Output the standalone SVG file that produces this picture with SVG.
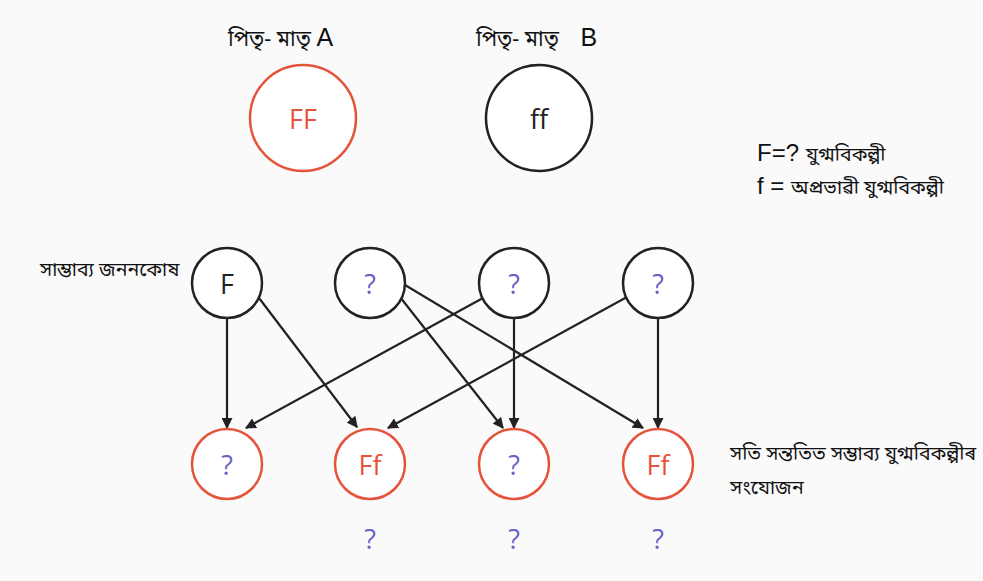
<svg xmlns="http://www.w3.org/2000/svg" width="983" height="581" viewBox="0 0 983 581">
<style>
.bn{font-family:"Noto Sans Bengali","Noto Sans","Liberation Sans",sans-serif;fill:#111}
.lat{font-family:"Liberation Sans",Arial,sans-serif;fill:#111}
.red{fill:#fff;stroke:#e5533a;stroke-width:2.5}
.blk{fill:#fff;stroke:#222;stroke-width:2.5}
.gl{font-family:"Open Sans","DejaVu Sans",sans-serif;font-size:27px;text-anchor:middle;dominant-baseline:central}
.q{fill:#6a62c4}
.rt{fill:#e5533a}
.kt{fill:#222}
.con line{stroke:#222;stroke-width:2.2;marker-end:url(#ah)}
</style>
<defs>
<marker id="ah" viewBox="0 0 10 10" refX="9" refY="5" markerWidth="5" markerHeight="5" orient="auto" markerUnits="strokeWidth">
<path d="M0,0 L10,5 L0,10 z" fill="#222"/>
</marker>
</defs>
<rect width="983" height="581" fill="#fafafa"/>
<g id="titleA"><text x="228" y="46" class="bn" font-size="21.5">পিতৃ- মাতৃ <tspan class="lat" font-size="25" fill="#4a1818">A</tspan></text></g>
<g id="titleB"><text x="476" y="46" class="bn" font-size="21.5">পিতৃ- মাতৃ <tspan class="lat" font-size="25" fill="#4a1818" dx="16">B</tspan></text></g>
<g id="parentA"><circle cx="303" cy="118" r="53" class="red"/><text x="303" y="118" class="gl rt">FF</text></g>
<g id="parentB"><circle cx="539" cy="118" r="53" class="blk"/><text x="539" y="118" class="gl kt">ff</text></g>
<g id="legend">
<text x="757" y="161" class="lat" font-size="24">F=? <tspan class="bn" font-size="19.5">যুগ্মবিকল্পী</tspan></text>
<text x="757" y="194" class="lat" font-size="24">f = <tspan class="bn" font-size="19.5">অপ্ৰভাৱী যুগ্মবিকল্পী</tspan></text>
</g>
<g id="gametelabel"><text x="40" y="276" class="bn" font-size="19.5">সাম্ভাব্য জননকোষ</text></g>
<g class="con" id="connectors">
<line x1="227" y1="318" x2="227" y2="428"/>
<line x1="259" y1="298" x2="357" y2="427"/>
<line x1="400" y1="297" x2="503" y2="428"/>
<line x1="405" y1="285" x2="643" y2="428"/>
<line x1="483" y1="298" x2="246" y2="428"/>
<line x1="514" y1="318" x2="514" y2="428"/>
<line x1="627" y1="297" x2="388" y2="428"/>
<line x1="658" y1="318" x2="658" y2="428"/>
</g>
<g id="g1"><circle cx="227" cy="283" r="35" class="blk"/><text x="227" y="283" class="gl kt">F</text></g>
<g id="g2"><circle cx="370" cy="283" r="35" class="blk"/><text x="370" y="283" class="gl q">?</text></g>
<g id="g3"><circle cx="514" cy="283" r="35" class="blk"/><text x="514" y="283" class="gl q">?</text></g>
<g id="g4"><circle cx="658" cy="283" r="35" class="blk"/><text x="658" y="283" class="gl q">?</text></g>
<g id="o1"><circle cx="227" cy="464" r="35" class="red"/><text x="227" y="464" class="gl q">?</text></g>
<g id="o2"><circle cx="370" cy="464" r="35" class="red"/><text x="370" y="464" class="gl rt">Ff</text></g>
<g id="o3"><circle cx="514" cy="464" r="35" class="red"/><text x="514" y="464" class="gl q">?</text></g>
<g id="o4"><circle cx="658" cy="464" r="35" class="red"/><text x="658" y="464" class="gl rt">Ff</text></g>
<g id="bottomq">
<text x="370" y="538" class="gl q">?</text>
<text x="514" y="538" class="gl q">?</text>
<text x="658" y="538" class="gl q">?</text>
</g>
<g id="offlabel">
<text x="730" y="460" class="bn" font-size="19.5">সতি সন্ততিত সম্ভাব্য যুগ্মবিকল্পীৰ</text>
<text x="730" y="494" class="bn" font-size="19.5">সংযোজন</text>
</g>
</svg>
